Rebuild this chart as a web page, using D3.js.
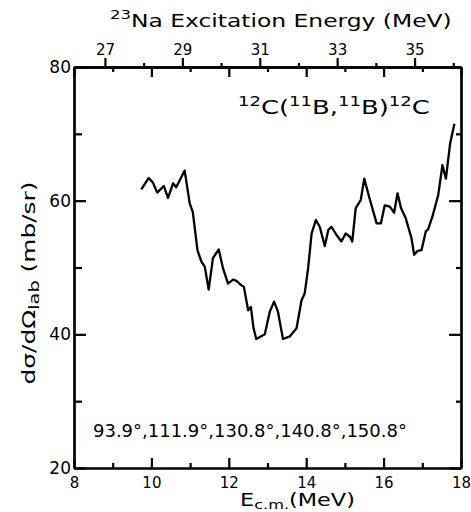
<!DOCTYPE html>
<html>
<head>
<meta charset="utf-8">
<script src="https://cdn.jsdelivr.net/npm/d3@7"></script>
<style>
  body { margin: 0; background: #fff; }
  svg { font-family: "DejaVu Sans", "Liberation Sans", sans-serif; }
  .axis path, .axis line { stroke: #000; stroke-width: 2.2; }
  .axis text { font-family: "DejaVu Sans", sans-serif; font-size: 15px; fill: #000; }
</style>
</head>
<body>
<div class="chart"></div>
<script>
// DATA ------------------------------------
// centre-of-mass energy (MeV) and cross section (mb/sr)
const ecm = [9.74, 9.93, 10.04, 10.15, 10.32, 10.43, 10.56, 10.64, 10.86, 10.99,
  11.07, 11.19, 11.29, 11.38, 11.48, 11.59, 11.74, 11.85, 11.98, 12.11,
  12.20, 12.31, 12.39, 12.50, 12.57, 12.64, 12.71, 12.93, 13.06, 13.17,
  13.27, 13.40, 13.58, 13.75, 13.88, 13.96, 14.05, 14.14, 14.25, 14.35,
  14.48, 14.57, 14.65, 14.78, 14.91, 15.02, 15.13, 15.19, 15.28, 15.41,
  15.50, 15.62, 15.82, 15.93, 16.03, 16.16, 16.27, 16.36, 16.45, 16.57,
  16.72, 16.79, 16.88, 16.98, 17.09, 17.15, 17.26, 17.41, 17.52, 17.61,
  17.72, 17.83]
const xsec = [61.7, 63.4, 62.7, 61.2, 62.2, 60.4, 62.6, 62.0, 64.5, 59.6,
  58.3, 52.6, 50.9, 50.1, 46.7, 51.4, 52.7, 49.9, 47.6, 48.2,
  48.0, 47.4, 47.1, 43.6, 44.1, 40.9, 39.3, 40.0, 43.4, 44.9,
  43.4, 39.3, 39.7, 40.9, 45.1, 46.1, 49.9, 55.1, 57.1, 56.1,
  53.2, 55.6, 56.1, 54.9, 53.9, 55.1, 54.6, 53.9, 58.9, 60.1,
  63.3, 60.7, 56.6, 56.6, 59.3, 59.1, 58.2, 61.1, 58.9, 57.4,
  54.4, 51.9, 52.5, 52.6, 55.4, 55.7, 57.6, 60.8, 65.3, 63.3,
  68.6, 71.5]

const ecmTicks = [8, 10, 12, 14, 16, 18]
const ecmMinor = [9, 11, 13, 15, 17]
const yTicks = [20, 40, 60, 80]
const yMinor = [30, 50, 70]
const exTicks = [27, 29, 31, 33, 35]
const exMinor = [28, 30, 32, 34, 36]
const qValue = 18.2   // Ex(23Na) = Ecm + Q
const angles = "93.9°,111.9°,130.8°,140.8°,150.8°"

// MARGIN CONVENTION
const margin = ({top: 67, right: 10, bottom: 44, left: 74})
const width = 471 - margin.left - margin.right,
  height = 512 - margin.top - margin.bottom

const svg = d3.select(".chart")
  .append("svg")
  .attr("width", width + margin.left + margin.right)
  .attr("height", height + margin.top + margin.bottom)
  .append("g")
  .attr("transform", "translate(" + margin.left + "," + margin.top + ")")

// scales
const xScale = d3.scaleLinear().domain([8, 18]).range([0, width])
const yScale = d3.scaleLinear().domain([20, 80]).range([height, 0])
const exScale = d3.scaleLinear().domain([8 + qValue, 18 + qValue]).range([0, width])

// axes: major + minor ticks, all drawn inward except the excitation scale
function addAxis(axis, transform, labels) {
  const g = svg.append("g").attr("class", "axis").attr("transform", transform).call(axis)
  if (!labels) g.selectAll("text").remove()
  return g
}

addAxis(d3.axisBottom(xScale).tickValues(ecmTicks).tickSize(-10).tickSizeOuter(0).tickPadding(9).tickFormat(d3.format("d")),
  `translate(0,${height})`, true)
addAxis(d3.axisBottom(xScale).tickValues(ecmMinor).tickSize(-5).tickSizeOuter(0),
  `translate(0,${height})`, false)

addAxis(d3.axisTop(xScale).tickValues(ecmTicks).tickSize(-10).tickSizeOuter(0), null, false)
addAxis(d3.axisTop(xScale).tickValues(ecmMinor).tickSize(-5).tickSizeOuter(0), null, false)
addAxis(d3.axisTop(exScale).tickValues(exTicks).tickSize(9).tickSizeOuter(0).tickPadding(3).tickFormat(d3.format("d")), null, true)
addAxis(d3.axisTop(exScale).tickValues(exMinor).tickSize(4).tickSizeOuter(0), null, false)

addAxis(d3.axisLeft(yScale).tickValues(yTicks).tickSize(-12).tickSizeOuter(0).tickPadding(3),
  null, true)
  .selectAll("text").style("font-size", "17px")
addAxis(d3.axisLeft(yScale).tickValues(yMinor).tickSize(-8).tickSizeOuter(0), null, false)

addAxis(d3.axisRight(yScale).tickValues(yTicks).tickSize(-12).tickSizeOuter(0),
  `translate(${width},0)`, false)
addAxis(d3.axisRight(yScale).tickValues(yMinor).tickSize(-5).tickSizeOuter(0),
  `translate(${width},0)`, false)

// curve
const line = d3.line()
  .x((d, i) => xScale(ecm[i]))
  .y(d => yScale(d))

svg.append("path")
  .datum(xsec)
  .attr("fill", "none")
  .attr("stroke", "#000")
  .attr("stroke-width", 2.3)
  .attr("stroke-linejoin", "round")
  .attr("d", line)

// TEXTS -----------------------------------
// the print uses a wide typeface: stretch each text sideways to its printed width
function fit(sel, x, y, target, rotate) {
  const len = sel.node().getComputedTextLength()
  const k = target / len
  sel.attr("transform", `translate(${x - margin.left},${y - margin.top})` +
    (rotate ? ` rotate(${rotate})` : "") + ` scale(${k},1)`)
}

const title = svg.append("text").style("font-size", "17px")
title.append("tspan").attr("font-size", "12px").attr("dy", "-8").text("23")
title.append("tspan").attr("dy", "8").text("Na  Excitation  Energy (MeV)")
fit(title, 110, 27, 342)

const reac = svg.append("text").style("font-size", "20px")
reac.append("tspan").attr("font-size", "14px").attr("dy", "-8").text("12")
reac.append("tspan").attr("dy", "8").text("C(")
reac.append("tspan").attr("font-size", "14px").attr("dy", "-8").text("11")
reac.append("tspan").attr("dy", "8").text("B,")
reac.append("tspan").attr("font-size", "14px").attr("dy", "-8").text("11")
reac.append("tspan").attr("dy", "8").text("B)")
reac.append("tspan").attr("font-size", "14px").attr("dy", "-8").text("12")
reac.append("tspan").attr("dy", "8").text("C")
fit(reac, 238, 114, 192)

const ang = svg.append("text").style("font-size", "17px").text(angles)
fit(ang, 93, 437, 314)

const xTitle = svg.append("text").style("font-size", "18px")
xTitle.append("tspan").text("E")
xTitle.append("tspan").attr("font-size", "13px").attr("dy", "3").text("c.m.")
xTitle.append("tspan").attr("dy", "-3").text("(MeV)")
fit(xTitle, 240, 506, 115)

const yTitle = svg.append("text")
  .attr("text-anchor", "middle")
  .style("font-size", "18px")
yTitle.append("tspan").text("dσ/dΩ")
yTitle.append("tspan").attr("font-size", "14px").attr("dy", "4").text("lab")
yTitle.append("tspan").attr("dy", "-4").text(" (mb/sr)")
fit(yTitle, 35, 283, 203, -90)
</script>
</body>
</html>
